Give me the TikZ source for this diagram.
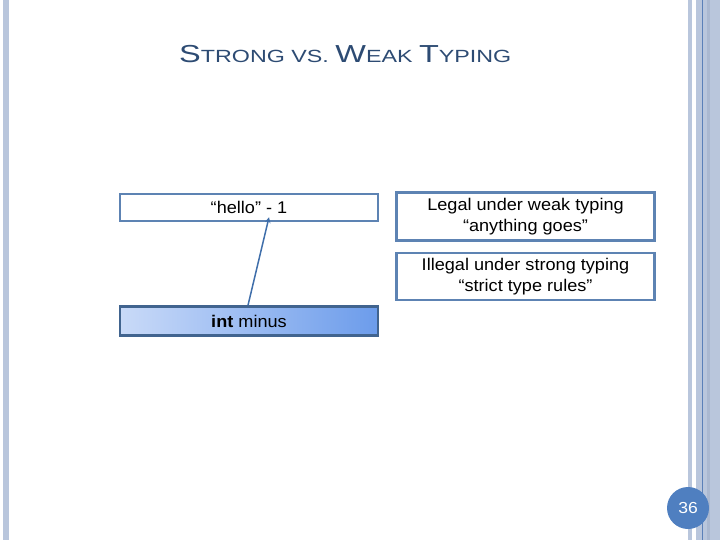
\documentclass[tikz,border=0pt]{standalone}
\usepackage{fontspec}
\setmainfont{Liberation Sans}
\usepackage{tikz}
\usetikzlibrary{shapes,arrows,positioning}
\definecolor{stripe}{HTML}{B9C6DC}
\definecolor{stripedark}{HTML}{AAB8D0}
\definecolor{stripeline}{HTML}{5B80B8}
\definecolor{boxline}{HTML}{5D83B3}
\definecolor{boxdark}{HTML}{41648F}
\definecolor{titleblue}{HTML}{2D4B73}
\definecolor{arrowblue}{HTML}{3F6EAA}
\definecolor{pageblue}{HTML}{4F7FC0}
\tikzstyle{block}    = [rectangle,
                        draw=boxline,
                        line width=2.5bp,
                        fill=white,
                        minimum width=258bp,
                        align=center,
                        inner sep=0pt,
                        font=\fontsize{17}{21.7}\selectfont]
\tikzstyle{line}     = [draw=arrowblue, line width=1.5bp, -stealth]
\newcommand{\widetext}[2][1.07]{\scalebox{#1}[1]{#2}}
\newcommand{\titlebig}[1]{{\fontsize{24.7}{30}\selectfont #1}}
\newcommand{\titlesmall}[1]{{\fontsize{17.7}{30}\selectfont #1}}

\begin{document}
\begin{tikzpicture}[%
  x=1bp, y=-1bp,
  ]
  \useasboundingbox (0,0) rectangle (720,540);

  % Slide edges:
  \fill[stripe] (3,0) rectangle (9,540);
  \fill[stripe] (688,0) rectangle (692,540);
  \fill[stripe] (696,0) rectangle (720,540);
  \fill[stripedark] (707,0) rectangle (710,540);
  \fill[stripeline] (701.5,0) rectangle (702.7,540);

  % Title:
  \node (title) [anchor=base west, inner sep=0pt, text=titleblue] at (179,63)
    {\widetext[1.32]{\titlebig{S}\titlesmall{TRONG VS. }\titlebig{W}\titlesmall{EAK }\titlebig{T}\titlesmall{YPING}}};

  % Nodes:
  \node (hello) [block, minimum height=27bp] at (249,207.5) {\widetext{“hello” - 1}};
  \node (intm) [block, draw=boxdark, minimum height=29bp, left color={rgb,255:red,201;green,218;blue,248},
    right color={rgb,255:red,108;green,156;blue,235}] at (249,321) {\widetext{\textbf{int} minus}};
  \node (weak) [block, minimum height=48bp] at (525.5,216.5)
    {\widetext{Legal under weak typing}\\\widetext{“anything goes”}};
  \node (strong) [block, minimum height=47bp] at (525.5,276.5)
    {\widetext{Illegal under strong typing}\\\widetext{“strict type rules”}};

  % Connectors:
  \draw[line] ([xshift=-1bp]intm.north) -- ([xshift=20bp, yshift=5bp]hello.south);

  % Page number:
  \node (page) [circle, fill=pageblue, minimum size=42bp, inner sep=0pt, text=white,
    font=\fontsize{16}{18}\selectfont] at (688,508) {\widetext[1.1]{36}};
\end{tikzpicture}
\end{document}
